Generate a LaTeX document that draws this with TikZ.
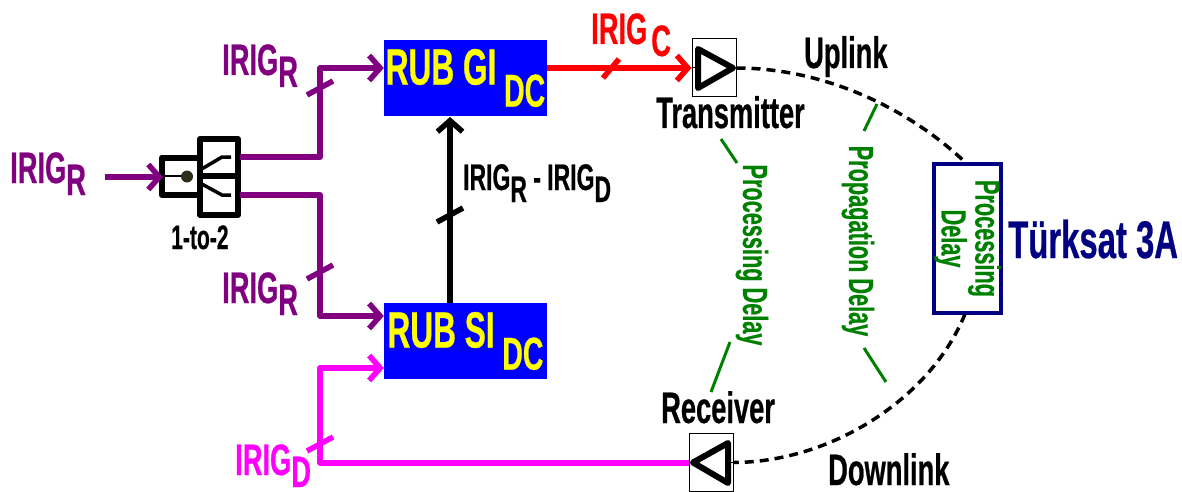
\documentclass[tikz,border=0pt]{standalone}
\usepackage{fontspec}
\setmainfont[FakeStretch=0.62,BoldFont={Liberation Sans Bold},BoldFeatures={FakeBold=0.5}]{Liberation Sans}
\usetikzlibrary{arrows.meta}
\definecolor{irigpurple}{RGB}{128,0,128}
\definecolor{irigmagenta}{RGB}{255,0,255}
\definecolor{irigred}{RGB}{255,0,0}
\definecolor{rubblue}{RGB}{0,0,255}
\definecolor{rubyellow}{RGB}{255,255,0}
\definecolor{delaygreen}{RGB}{0,128,0}
\definecolor{satnavy}{RGB}{0,0,128}
\definecolor{dotolive}{RGB}{45,45,25}
\newcommand{\subdrop}[2]{#1\raisebox{-12pt}{#2}}
\tikzset{
  wire/.style={line width=5.5pt,line join=round,-{Straight Barb[length=11pt,width=25pt,line width=5.5pt]}},
  plainwire/.style={line width=5.5pt,line join=round},
  lbl/.style={anchor=base west,inner sep=0pt,font=\bfseries\fontsize{44}{44}\selectfont},
  smalllbl/.style={lbl,font=\bfseries\fontsize{37}{37}\selectfont},
  rub/.style={draw=none,fill=rubblue,text=rubyellow,minimum width=163pt,minimum height=76pt,inner sep=0pt,font=\bfseries\fontsize{51}{51}\selectfont},
  ampbox/.style={draw=black,line width=1pt,fill=white,minimum width=44pt,minimum height=58pt,inner sep=0pt},
  amptri/.style={draw=black,line width=6pt,line join=round},
  delaytxt/.style={text=delaygreen,rotate=-90,inner sep=0pt,font=\bfseries\fontsize{35}{35}\selectfont},
  delayline/.style={draw=delaygreen,line width=3pt},
  linkdash/.style={line width=3.5pt,dash pattern=on 9pt off 6pt},
  swbox/.style={line width=6pt,line join=round}
}
\begin{document}
\begin{tikzpicture}[x=1pt,y=-1pt]
\useasboundingbox (0,0) rectangle (1182,492);

% main blocks
\node[rub] (rubgi) at (465.5,78) {\raisebox{12pt}{RUB GI}\raisebox{-10pt}{\fontsize{46}{46}\selectfont\,DC}};
\node[rub] (rubsi) at (465.5,341) {\raisebox{12pt}{RUB SI}\raisebox{-10pt}{\fontsize{46}{46}\selectfont\,DC}};
\node[ampbox] (trans) at (714,68) {};
\node[ampbox] (recv) at (711.5,462.5) {};
\node[draw=satnavy,line width=3.5pt,rotate=-90,minimum width=149pt,minimum height=67pt,inner sep=0pt,align=center,text=delaygreen,font=\bfseries\fontsize{35}{27}\selectfont] (sat) at (967.5,238.5) {Processing\\Delay};

% 1-to-2 splitter
\coordinate (splitin) at (163,177);
\coordinate (splitup) at (240,157);
\coordinate (splitdn) at (240,195);
\draw[swbox,fill=white] (162,157.5) rectangle (200,195);
\draw[swbox,fill=white] (200,139) rectangle (238,215);
\draw[swbox] (200,176) -- (238,176);
\draw[line width=2.5pt] (162,176) -- (187,176);
\draw[line width=3.5pt] (200,170) -- (222,157) -- (231,157);
\draw[line width=3.5pt] (200,183) -- (222,195) -- (231,195);
\node[circle,fill=dotolive,minimum size=12pt,inner sep=0pt] (splitdot) at (187,176.5) {};
\node[lbl,font=\bfseries\fontsize{34}{34}\selectfont] (splitlbl) at (171,249) {1-to-2};

% wires
\coordinate (irigin) at (105,177);
\draw[wire,draw=irigpurple] (irigin) -- (splitin);
\draw[wire,draw=irigpurple] (splitup) -- (320,157) -- (320,68) -- (rubgi.west |- 0,68);
\draw[wire,draw=irigpurple] (splitdn) -- (320,195) -- (320,316) -- (rubsi.west |- 0,316);
\draw[wire,draw=black] (450,303) -- (450,117);
\draw[wire,draw=irigred] (rubgi.east |- trans.west) -- (trans.west);
\draw[wire,draw=irigmagenta,line width=6pt] (recv.west) -- (320,462.5) -- (320,368) -- (rubsi.west |- 0,368);

% bus marks
\foreach \mx/\my/\mcol in {320/88/irigpurple,320/272/irigpurple,450/215/black,320/444/irigmagenta}
  \draw[plainwire,draw=\mcol] (\mx-13,\my+7) -- (\mx+13,\my-7);
\draw[plainwire,draw=irigred] (603,78) -- (619,59);

% amplifiers
\draw[amptri] (698,49) -- (733,68) -- (698,88) -- cycle;
\draw[line width=1pt] (692,68) -- (698,68) (733,68) -- (736,68);
\draw[amptri] (728,443) -- (693,462.5) -- (728,483) -- cycle;
\draw[line width=1pt] (728,462.5) -- (734,462.5);

% links
\coordinate (upend) at (966,163);
\coordinate (dnend) at (965,314);
\draw[linkdash] (trans.east) .. controls (820,68) and (905,105) .. (upend);
\draw[linkdash] (dnend) .. controls (930,400) and (830,462) .. (recv.east);

% labels
\node[lbl,text=irigpurple] (lblin) at (10,183) {\subdrop{IRIG}{R}};
\node[lbl,text=irigpurple] (lblup) at (222,75) {\subdrop{IRIG}{R}};
\node[lbl,text=irigpurple] (lbldn) at (222,303) {\subdrop{IRIG}{R}};
\node[lbl,text=irigmagenta] (lbld) at (235,475) {\subdrop{IRIG}{D}};
\node[lbl,text=irigred] (lblc) at (591,44) {\subdrop{IRIG\kern4pt}{C}};
\node[smalllbl] (lbldiff) at (463,190) {\subdrop{IRIG}{R} - \subdrop{IRIG}{D}};
\node[lbl] (lbltrans) at (656,128) {Transmitter};
\node[lbl] (lblrecv) at (661,423) {Receiver};
\node[lbl] (lbluplink) at (804,68) {Uplink};
\node[lbl] (lbldown) at (828,485) {Downlink};
\node[lbl,text=satnavy,font=\bfseries\fontsize{53}{53}\selectfont] (lblsat) at (1008,258) {Türksat 3A};

% delays
\node[delaytxt] (procdelay) at (752,255) {Processing Delay};
\node[delaytxt] (propdelay) at (858,241) {Propagation Delay};
\draw[delayline] (721,139) -- (737,163);
\draw[delayline] (730,342) -- (711,392);
\draw[delayline] (877,104) -- (864,131);
\draw[delayline] (864,348) -- (886,382);
\end{tikzpicture}
\end{document}
